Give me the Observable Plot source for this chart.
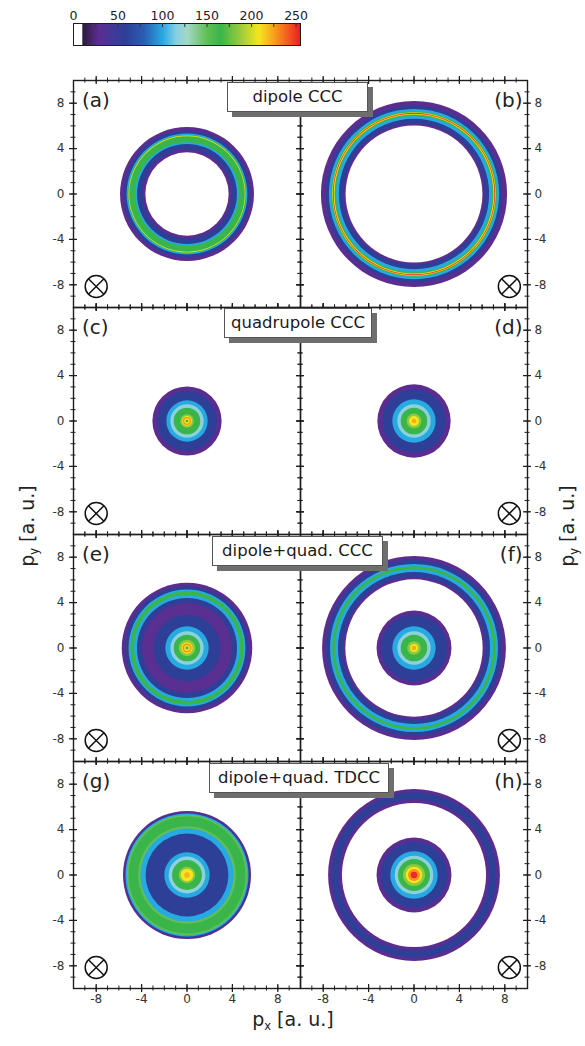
<!DOCTYPE html>
<html><head><meta charset="utf-8">
<script src="https://cdn.jsdelivr.net/npm/d3@7"></script>
<script src="https://cdn.jsdelivr.net/npm/@observablehq/plot@0.6"></script>
<style>
body{margin:0;background:#fff;font-family:"DejaVu Sans",sans-serif;}
#wrap{position:relative;width:585px;height:1046px;overflow:hidden;background:#fff;}
#wrap svg{position:absolute;left:0;top:0;}
.box{position:absolute;height:30px;box-sizing:border-box;background:#fff;border:1px solid #555;box-shadow:5px 5px 0 #6e6e6e;font-size:16.5px;line-height:28px;text-align:center;color:#1a1a1a;white-space:nowrap;}
.lab{position:absolute;font-size:19px;color:#222;white-space:nowrap;text-align:center;}
.lab sub{font-size:0.6em;vertical-align:-0.35em;}
</style></head><body><div id="wrap"></div><script>
// ---------------- data ----------------
const panelIds = ["a", "b", "c", "d", "e", "f", "g", "h"];
const rowTitles = ["dipole CCC", "quadrupole CCC", "dipole+quad. CCC", "dipole+quad. TDCC"];

// concentric bands: outer radius (a.u.) and intensity, outermost first (0 = empty)
const aRadius = [5.9, 5.6, 5.32, 5.2, 5.15, 5.09, 4.55, 4.4, 3.92, 3.67];
const aValue  = [28, 58, 100, 165, 205, 165, 100, 58, 28, 0];
const bRadius = [8.2, 7.8, 7.5, 7.3, 7.2, 7.15, 7.08, 7.0, 6.88, 6.62, 6.22, 6.03];
const bValue  = [28, 58, 100, 165, 210, 250, 210, 165, 100, 58, 28, 0];
const cRadius = [3.05, 2.64, 1.82, 1.47, 1.17, 0.6, 0.44, 0.36, 0.24, 0.12];
const cValue  = [28, 58, 100, 118, 165, 185, 208, 228, 208, 165];
const dRadius = [3.23, 2.79, 1.91, 1.47, 1.17, 0.65, 0.44, 0.2];
const dValue  = [28, 58, 100, 118, 165, 185, 208, 222];
const eRadius = [5.75, 5.45, 5.15, 4.99, 4.66, 4.41, 3.96, 2.94, 1.91, 1.47, 1.17, 0.73, 0.5, 0.4, 0.26, 0.13];
const eValue  = [28, 58, 100, 165, 100, 58, 30, 58, 100, 118, 165, 185, 208, 228, 208, 165];
const fRadius = [8.1, 7.78, 7.4, 7.2, 6.96, 6.7, 6.26, 6.05, 3.3, 2.94, 1.91, 1.47, 1.17, 0.6, 0.35, 0.2];
const fValue  = [28, 58, 100, 165, 100, 58, 28, 0, 28, 58, 100, 118, 165, 185, 208, 222];
const gRadius = [5.64, 5.5, 5.42, 5.3, 5.15, 4.3, 4.1, 3.65, 2.0, 1.62, 1.32, 0.73, 0.55, 0.25];
const gValue  = [28, 58, 100, 150, 165, 150, 100, 58, 100, 118, 165, 185, 208, 220];
const hRadius = [7.57, 7.28, 6.64, 6.35, 3.3, 2.94, 2.09, 1.7, 1.41, 0.97, 0.73, 0.53, 0.29];
const hValue  = [28, 58, 28, 0, 28, 58, 100, 118, 165, 185, 208, 228, 252];

// colour map (value stops and colours)
const colorStops = [0, 9.99, 10, 28, 45, 58, 80, 100, 115, 128, 150, 165, 190, 208, 228, 255];
const colorRange = ["#ffffff", "#ffffff", "#2b1c3c", "#5c2d91", "#403a9a", "#2e3f98", "#2b5fb5", "#27aae1",
                    "#86cfe3", "#a3d7c4", "#62bf55", "#39b54a", "#a6ce39", "#f5e71e", "#f7941d", "#ed1c24"];

const axisTicks = [-8, -4, 0, 4, 8];
const minorTicks = [-9, -8, -7, -6, -5, -4, -3, -2, -1, 0, 1, 2, 3, 4, 5, 6, 7, 8, 9];
const barTicks = [0, 50, 100, 150, 200, 250];
const barMinorTicks = [25, 50, 75, 100, 125, 150, 175, 200, 225, 250];
const markerX = [-8.0, 8.4];   // ⊗ position, left / right column
const markerY = [-8.15, -8.15];

// ---------------- build tables ----------------
const radiusLists = [aRadius, bRadius, cRadius, dRadius, eRadius, fRadius, gRadius, hRadius];
const valueLists = [aValue, bValue, cValue, dValue, eValue, fValue, gValue, hValue];
const bands = panelIds.flatMap((id, i) =>
  radiusLists[i].map((r, j) => ({id, col: i % 2, row: Math.floor(i / 2), r, v: valueLists[i][j]})));
const panels = panelIds.map((id, i) => ({id, col: i % 2, row: Math.floor(i / 2), mx: markerX[i % 2], my: markerY[i % 2]}));

// ---------------- layout ----------------
const W = 585, H = 1046, mT = 80, mB = 58, mL = 73, mR = 58;
const FW = (W - mL - mR) / 2, FH = (H - mT - mB) / 4;
const pxPerUnit = FW / 20;
const colorScale = {type: "linear", domain: colorStops, range: colorRange, clamp: true};
const ink = "#1e1e1e";

function edgeTicks(arr, out, inn, sw) {
  const o = {stroke: ink, strokeWidth: sw};
  return [
    Plot.tickY(arr, {y: d => d, insetLeft: -out, insetRight: FW - inn, ...o}),
    Plot.tickY(arr, {y: d => d, insetLeft: FW - inn, insetRight: -out, ...o}),
    Plot.tickX(arr, {x: d => d, insetTop: -out, insetBottom: FH - inn, ...o}),
    Plot.tickX(arr, {x: d => d, insetTop: FH - inn, insetBottom: -out, ...o})
  ];
}

const main = Plot.plot({
  width: W, height: H, marginTop: mT, marginBottom: mB, marginLeft: mL, marginRight: mR,
  style: {fontFamily: "DejaVu Sans", fontSize: "12px", color: "#333", background: "transparent", overflow: "visible"},
  x: {domain: [-10, 10]},
  y: {domain: [-10, 10]},
  fx: {domain: [0, 1], padding: 0, axis: null},
  fy: {domain: [0, 1, 2, 3], padding: 0, axis: null},
  r: {type: "linear", domain: [0, 10], range: [0, 10 * pxPerUnit]},
  color: colorScale,
  marks: [
    Plot.dot(bands, {fx: "col", fy: "row", x: 0, y: 0, r: "r", fill: "v"}),
    Plot.frame({stroke: ink, strokeWidth: 1.4}),
    ...edgeTicks(minorTicks, 2.5, 2.5, 1),
    ...edgeTicks(axisTicks, 4, 4, 1.2),
    Plot.axisY(axisTicks, {anchor: "left", tickSize: 0, tickPadding: 9, tickFormat: d => String(d), label: null, fill: "#333"}),
    Plot.axisY(axisTicks, {anchor: "right", tickSize: 0, tickPadding: 7, tickFormat: d => String(d), label: null, fill: "#333"}),
    Plot.axisX(axisTicks, {anchor: "bottom", tickSize: 0, tickPadding: 6, tickFormat: d => String(d), label: null, fill: "#333"}),
    Plot.dot(panels, {fx: "col", fy: "row", x: "mx", y: "my", r: 11, stroke: "#111", strokeWidth: 1.5, fill: "none"}),
    Plot.dot(panels, {fx: "col", fy: "row", x: "mx", y: "my", symbol: "times", r: 7.13, stroke: "#111", strokeWidth: 1.5}),
    Plot.text(panels.filter(d => d.col === 0), {fx: "col", fy: "row", text: d => `(${d.id})`, frameAnchor: "top-left",
      textAnchor: "start", lineAnchor: "top", dx: 8.5, dy: 12, fontSize: 20, fill: "#222"}),
    Plot.text(panels.filter(d => d.col === 1), {fx: "col", fy: "row", text: d => `(${d.id})`, frameAnchor: "top-right",
      textAnchor: "end", lineAnchor: "top", dx: -5, dy: 12, fontSize: 20, fill: "#222"})
  ]
});

const bar = Plot.plot({
  width: 320, height: 47, marginTop: 23, marginBottom: 2, marginLeft: 73, marginRight: 20,
  style: {fontFamily: "DejaVu Sans", fontSize: "12.5px", color: "#222", background: "transparent", overflow: "visible"},
  x: {domain: [0, 255]},
  y: {domain: [0, 1], axis: null},
  color: colorScale,
  marks: [
    Plot.raster({x1: 0, x2: 255, y1: 0, y2: 1, width: 510, height: 1, fill: (x, y) => x}),
    Plot.frame({stroke: ink, strokeWidth: 1}),
    Plot.tickX(barMinorTicks, {x: d => d, insetBottom: 18, stroke: "#333"}),
    Plot.axisX(barTicks, {anchor: "top", tickSize: 0, tickPadding: 4, tickFormat: d => String(d), label: null})
  ]
});

const wrap = document.getElementById("wrap");
wrap.appendChild(main);
wrap.appendChild(bar);

// title boxes (left, top, width) straddling the two columns
const boxLayout = [[227, 82, 141], [224, 308, 148], [212, 536, 171], [209, 763, 180]];
rowTitles.forEach((t, i) => {
  const d = document.createElement("div");
  d.className = "box";
  const [l, tp, w] = boxLayout[i];
  d.style.left = l + "px"; d.style.top = tp + "px"; d.style.width = w + "px";
  d.textContent = t;
  wrap.appendChild(d);
});

// axis titles
function addLabel(html, cx, cy, rot) {
  const d = document.createElement("div");
  d.className = "lab";
  d.innerHTML = html;
  d.style.width = "140px"; d.style.height = "26px"; d.style.lineHeight = "26px";
  d.style.left = (cx - 70) + "px"; d.style.top = (cy - 13) + "px";
  if (rot) d.style.transform = "rotate(-90deg)";
  wrap.appendChild(d);
}
addLabel("p<sub>x</sub> [a. u.]", 293, 1019, false);
addLabel("p<sub>y</sub> [a. u.]", 27, 526, true);
addLabel("p<sub>y</sub> [a. u.]", 567, 526, true);
</script></body></html>
